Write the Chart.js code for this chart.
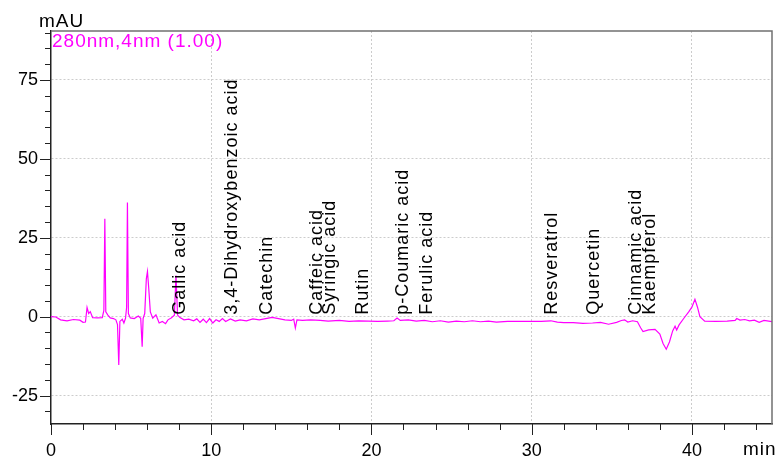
<!DOCTYPE html>
<html>
<head>
<meta charset="utf-8">
<script src="https://cdn.jsdelivr.net/npm/chart.js@4.4.1/dist/chart.umd.min.js"></script>
<style>
  html, body { margin: 0; padding: 0; background: #fff; }
  canvas { display: block; }
</style>
</head>
<body>
<canvas id="chrom" width="782" height="459"></canvas>
<script>
// Retention time (min) and detector signal (mAU)
const TIMES = [
  0.0, 0.3, 0.6, 1.0, 1.4, 1.8, 2.0, 2.15, 2.25, 2.35, 2.45, 2.6, 2.9, 3.2, 3.3, 3.36, 3.42, 3.55, 3.7, 3.9,
  4.05, 4.15, 4.23, 4.3, 4.45, 4.55, 4.65, 4.72, 4.77, 4.83, 4.95, 5.2, 5.45, 5.6, 5.69, 5.75, 5.85, 5.95, 6.02, 6.1,
  6.2, 6.35, 6.55, 6.75, 6.95, 7.15, 7.3, 7.5, 7.7, 7.8, 7.9, 8.05, 8.3, 8.6, 8.9, 9.1, 9.3, 9.5, 9.7, 9.9,
  10.1, 10.3, 10.5, 10.7, 10.9, 11.2, 11.5, 11.8, 12.2, 12.6, 13.0, 13.4, 13.8, 14.2, 14.6, 15.0, 15.15, 15.25, 15.35, 15.7,
  16.2, 16.8, 17.3, 18.0, 18.6, 19.2, 19.8, 20.4, 21.0, 21.4, 21.6, 21.8, 22.3, 22.8, 23.3, 23.8, 24.3, 24.8, 25.3, 25.8,
  26.3, 26.8, 27.3, 27.8, 28.5, 29.2, 30.0, 30.6, 31.2, 31.6, 32.0, 32.6, 33.2, 33.8, 34.3, 34.8, 35.3, 35.6, 35.8, 36.0,
  36.3, 36.6, 36.8, 36.95, 37.3, 37.7, 38.0, 38.2, 38.4, 38.6, 38.8, 38.95, 39.05, 39.2, 39.5, 39.8, 40.0, 40.19, 40.35, 40.5,
  40.8, 41.5, 42.2, 42.7, 42.8, 43.0, 43.3, 43.6, 43.9, 44.2, 44.5, 45.0
];
const SIGNAL = [
  0.0, -0.1, -1.0, -1.3, -0.9, -1.1, -1.8, -1.7, 2.9, 1.0, 1.6, -0.3, -0.4, -0.3, 2.0, 31.0, 1.5, 0.5, -0.4, -0.6,
  -1.0, -2.5, -15.3, -1.5, -0.8, -2.0, -0.5, 3.0, 36.2, 1.0, -0.4, -0.6, 0.2, -0.5, -9.5, -0.5, 1.0, 12.0, 14.3, 9.0,
  1.5, -0.5, 0.6, -2.0, -1.5, -2.2, -1.0, -0.4, 0.5, 13.0, 0.5, -0.3, -1.0, -0.8, -1.3, -0.7, -1.8, -0.8, -1.9, -0.6,
  -2.0, -1.0, -1.5, -0.6, -1.5, -0.7, -1.4, -1.0, -1.3, -0.7, -1.0, -0.6, -0.2, -0.6, -1.0, -1.2, -0.8, -3.6, -1.0, -1.2,
  -1.0, -1.2, -1.4, -1.2, -1.5, -1.3, -1.4, -1.5, -1.4, -1.3, -0.4, -1.2, -1.0, -1.4, -1.2, -1.6, -1.3, -1.7, -1.4, -1.6,
  -1.3, -1.6, -1.4, -1.7, -1.5, -1.5, -1.5, -1.5, -1.3, -1.7, -1.9, -1.9, -2.1, -2.0, -1.8, -2.4, -1.8, -1.2, -1.0, -1.7,
  -1.3, -1.6, -3.5, -4.7, -4.2, -4.0, -5.5, -8.5, -10.3, -8.0, -4.5, -3.0, -4.2, -2.6, -0.5, 1.5, 3.0, 5.5, 3.0, 0.0,
  -1.4, -1.5, -1.4, -1.2, -0.6, -1.1, -0.9, -1.3, -1.1, -1.8, -1.2, -1.6
];

// Peak identification labels and their retention times
const PEAK_NAMES = [
  'Gallic acid', '3,4-Dihydroxybenzoic acid', 'Catechin', 'Caffeic acid', 'Syringic acid', 'Rutin',
  'p-Coumaric acid', 'Ferulic acid', 'Resveratrol', 'Quercetin', 'Cinnamic acid', 'Kaempferol'
];
const PEAK_TIMES = [8.05, 11.3, 13.5, 16.6, 17.4, 19.5, 22.0, 23.5, 31.3, 33.9, 36.5, 37.4];

const Y_LABELS = [-25, 0, 25, 50, 75];
const X_LABELS = [0, 10, 20, 30, 40];

const FONT = "'Liberation Sans', Arial, sans-serif";
const MAGENTA = '#ff00ff';

// Ticks (major/minor), frame, axis titles and peak names
const decorPlugin = {
  id: 'decor',
  afterDatasetsDraw(chart) {
    const { ctx, chartArea: a, scales: { x, y } } = chart;
    ctx.save();

    // peak names, rotated, sitting on the baseline
    ctx.fillStyle = '#000';
    ctx.font = '18px ' + FONT;
    ctx.letterSpacing = '1px';
    ctx.textAlign = 'left';
    ctx.textBaseline = 'middle';
    const base = y.getPixelForValue(0) - 2;
    PEAK_NAMES.forEach((name, i) => {
      ctx.save();
      ctx.translate(x.getPixelForValue(PEAK_TIMES[i]), base);
      ctx.rotate(-Math.PI / 2);
      ctx.fillText(name, 0, 0);
      ctx.restore();
    });

    // frame on top and right
    ctx.strokeStyle = '#707070';
    ctx.lineWidth = 1.5;
    ctx.beginPath();
    ctx.moveTo(a.left, a.top);
    ctx.lineTo(a.right, a.top);
    ctx.lineTo(a.right, a.bottom);
    ctx.stroke();

    // tick marks
    ctx.strokeStyle = '#222';
    ctx.lineWidth = 1;
    ctx.beginPath();
    for (let v = -30; v <= 90; v += 5) {
      const py = Math.round(y.getPixelForValue(v)) + 0.5;
      const len = v % 25 === 0 ? 11 : 6;
      ctx.moveTo(a.left - len, py);
      ctx.lineTo(a.left, py);
    }
    for (let v = 0; v <= 44; v += 2) {
      const px = Math.round(x.getPixelForValue(v)) + 0.5;
      const len = v % 10 === 0 ? 11 : 6;
      ctx.moveTo(px, a.bottom);
      ctx.lineTo(px, a.bottom + len);
    }
    ctx.stroke();

    // axis titles and channel caption
    ctx.letterSpacing = '1px';
    ctx.font = '19px ' + FONT;
    ctx.fillStyle = '#000';
    ctx.textAlign = 'left';
    ctx.textBaseline = 'alphabetic';
    ctx.fillText('mAU', 39, 27);
    ctx.fillText('min', 743, 455);
    ctx.fillStyle = MAGENTA;
    ctx.fillText('280nm,4nm (1.00)', a.left + 1, a.top + 16);
    ctx.restore();
  }
};

new Chart(document.getElementById('chrom'), {
  type: 'line',
  data: {
    datasets: [{
      data: TIMES.map((t, i) => ({ x: t, y: SIGNAL[i] })),
      borderColor: MAGENTA,
      borderWidth: 1.2,
      pointRadius: 0,
      tension: 0
    }]
  },
  options: {
    responsive: false,
    animation: false,
    layout: { padding: { top: 31, right: 10, left: 0, bottom: 0 } },
    plugins: { legend: { display: false }, tooltip: { enabled: false } },
    scales: {
      x: {
        type: 'linear',
        min: 0,
        max: 45,
        afterFit: s => { s.height = 35; },
        afterBuildTicks: s => { s.ticks = X_LABELS.map(v => ({ value: v })); },
        grid: {
          drawTicks: false,
          color: c => (c.tick && c.tick.value !== 0 ? '#cccccc' : 'rgba(0,0,0,0)'),
          lineWidth: 1
        },
        border: { color: '#222', width: 1.5, dash: [2, 2] },
        ticks: {
          padding: 16,
          color: '#000',
          maxRotation: 0,
          autoSkip: false,
          font: { family: FONT, size: 18 }
        }
      },
      y: {
        min: -34,
        max: 90.5,
        afterFit: s => { s.width = 51; },
        afterBuildTicks: s => { s.ticks = Y_LABELS.map(v => ({ value: v })); },
        grid: {
          drawTicks: false,
          color: '#cccccc',
          lineWidth: 1
        },
        border: { color: '#222', width: 1.5, dash: [2, 2] },
        ticks: {
          padding: 13,
          color: '#000',
          autoSkip: false,
          font: { family: FONT, size: 18 }
        }
      }
    }
  },
  plugins: [decorPlugin]
});
</script>
</body>
</html>
